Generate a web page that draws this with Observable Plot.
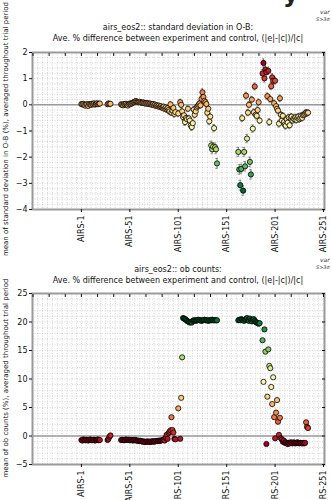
<!DOCTYPE html>
<html><head><meta charset="utf-8">
<script src="https://cdn.jsdelivr.net/npm/d3@7"></script>
<script src="https://cdn.jsdelivr.net/npm/@observablehq/plot@0.6"></script>
<style>
body{margin:0;background:#fff;font-family:"DejaVu Sans",sans-serif;}
#page{position:relative;width:331px;height:500px;overflow:hidden;background:#fff;}
.abs{position:absolute;white-space:nowrap;color:#111;}
.title{left:0;width:356px;text-align:center;font-size:8px;line-height:11px;}
.ylab{font-size:7px;transform:translate(-50%,-50%) rotate(-90deg);}
.leg{font-style:italic;color:#333;}
svg{overflow:visible;}
</style></head><body><div id="page"></div>
<script>
// ---- tick labels ----
const xTickIdx = [0, 50, 100, 150, 200, 250];
const xTickLabels = ["AIRS-1", "AIRS-51", "AIRS-101", "AIRS-151", "AIRS-201", "AIRS-251"];
const yTicksStd = [-4, -3, -2, -1, 0, 1, 2];
const yTicksOb = [-5, 0, 5, 10, 15, 20, 25];

// ---- channel index runs (channels with data) ----
const channelRuns = [[0, 19], [27, 30], [41, 97], [100, 100], [102, 140], [162, 184], [187, 234]];

// ---- standard deviation in O-B, % difference (one value per channel, in run order) ----
const stdDiff = [
  // 0-19
  0.03,0.02,0.04,0.0,-0.03,0.02,0.01,-0.04,0.03,0.01,0.0,0.04,0.02,0.05,0.01,0.03,0.06,0.02,0.04,0.05,
  // 27-30
  0.02,0.05,0.03,0.04,
  // 41-97
  0.02,0.0,-0.02,0.03,0.01,0.04,0.0,-0.03,0.02,0.05,0.03,0.06,0.08,0.1,0.12,0.14,0.13,0.11,0.1,
  0.12,0.1,0.08,0.07,0.09,0.06,0.05,0.07,0.04,0.06,0.03,0.05,0.02,0.0,0.03,-0.02,0.01,-0.04,-0.02,-0.06,-0.03,
  -0.08,-0.05,-0.1,-0.12,-0.07,-0.15,-0.1,-0.18,-0.13,-0.2,-0.25,0.02,-0.3,-0.22,-0.12,-0.35,-0.28,
  // 100
  -0.33,
  // 102-140
  0.1,0.0,-0.25,-0.47,-0.4,-0.66,-0.5,-0.55,-0.15,-0.52,-0.6,-0.79,-0.85,-0.7,-0.18,-0.38,-0.25,-0.1,-0.05,0.0,
  0.05,-0.02,0.23,0.48,0.3,0.15,0.1,0.03,-0.3,-0.15,-0.63,-0.45,-1.55,-1.7,-1.6,-0.89,-1.62,-1.7,-2.24,
  // 162-184
  -1.8,-2.47,-3.07,-2.45,-0.51,-3.28,-1.8,-2.35,0.35,-1.29,-0.3,0.0,-2.18,-2.66,0.2,-0.91,-0.28,0.7,-0.38,-0.42,-0.2,0.1,-0.6,
  // 187-234
  1.2,1.6,1.01,1.35,1.25,0.33,1.3,-0.66,0.22,0.71,1.05,0.92,0.06,0.92,-0.05,-0.15,-0.22,-0.72,0.25,-0.38,
  -0.6,-0.42,-0.66,-0.75,-0.8,-0.55,-0.68,-0.48,-0.78,-0.5,-0.45,-0.6,-0.52,-0.55,-0.48,-0.58,-0.5,-0.45,-0.55,-0.5,
  -0.42,-0.5,-0.4,-0.38,-0.34,-0.3,-0.32,-0.3
];
const stdErr = [
  0.08,0.07,0.08,0.09,0.08,0.07,0.08,0.09,0.08,0.07,0.08,0.08,0.07,0.09,0.08,0.08,0.07,0.08,0.09,0.08,
  0.08,0.09,0.08,0.08,
  0.08,0.08,0.07,0.08,0.09,0.08,0.08,0.07,0.08,0.08,0.09,0.08,0.08,0.07,0.08,0.08,0.09,0.08,0.08,
  0.08,0.07,0.08,0.08,0.09,0.08,0.08,0.07,0.08,0.08,0.09,0.08,0.08,0.07,0.08,0.08,0.09,0.08,0.08,0.08,0.09,
  0.09,0.08,0.09,0.1,0.09,0.1,0.09,0.1,0.1,0.1,0.11,0.1,0.11,0.1,0.1,0.12,0.11,
  0.12,
  0.11,0.11,0.12,0.12,0.12,0.13,0.12,0.12,0.11,0.12,0.13,0.13,0.13,0.12,0.11,0.12,0.12,0.11,0.11,0.11,
  0.11,0.11,0.12,0.13,0.12,0.12,0.11,0.11,0.12,0.12,0.13,0.12,0.16,0.17,0.16,0.14,0.16,0.17,0.19,
  0.17,0.18,0.19,0.18,0.13,0.19,0.17,0.18,0.13,0.16,0.12,0.12,0.18,0.18,0.12,0.14,0.12,0.13,0.12,0.12,0.12,0.12,0.12,
  0.14,0.15,0.14,0.14,0.14,0.12,0.14,0.13,0.12,0.13,0.14,0.13,0.12,0.13,0.12,0.12,0.12,0.13,0.12,0.12,
  0.12,0.12,0.12,0.13,0.13,0.12,0.12,0.12,0.13,0.12,0.12,0.12,0.12,0.12,0.12,0.12,0.12,0.12,0.12,0.12,
  0.12,0.12,0.12,0.12,0.12,0.12,0.12,0.12
];

// ---- ob counts, % difference ----
const obDiff = [
  // 0-19
  -0.7,-0.8,-0.6,-0.7,-0.75,-0.65,-0.7,-0.8,-0.7,-0.6,-0.7,-0.75,-0.7,-0.65,-0.8,-0.7,-0.7,-0.6,-0.75,-0.7,
  // 27-30
  -0.7,-0.5,-0.1,0.1,
  // 41-97
  -0.7,-0.65,-0.7,-0.75,-0.7,-0.6,-0.7,-0.7,-0.65,-0.75,-0.7,-0.7,-0.8,-0.7,-0.75,-0.7,-0.8,-0.85,-0.8,-0.9,-0.85,-0.9,
  -1.0,-0.95,-1.0,-1.05,-1.0,-0.95,-1.0,-1.0,-1.05,-0.95,-1.0,-0.9,-1.0,-0.95,-0.9,-0.85,-0.9,-0.8,-0.85,-0.8,-0.75,-0.7,
  -0.6,-0.8,-0.3,0.2,-0.5,0.5,0.75,1.0,3.3,1.05,0.6,-0.5,-0.6,
  // 100
  4.85,
  // 102-140
  -0.5,6.7,13.8,
  20.7,20.6,20.5,20.4,20.2,20.1,20.0,19.9,20.0,19.9,20.2,20.3,20.3,20.2,20.3,20.3,20.4,20.3,
  20.3,20.2,20.3,20.3,20.4,20.3,20.3,20.3,20.2,20.3,20.3,20.3,20.4,20.3,20.3,20.3,20.3,20.3,
  // 162-184
  20.3,20.4,20.3,20.5,20.4,20.3,20.2,20.4,20.5,20.7,20.3,20.2,20.6,20.3,20.1,20.4,20.5,20.2,20.0,19.9,19.8,19.7,19.8,
  // 187-234
  16.8,9.5,18.7,14.8,-1.4,6.9,15.2,12.3,11.9,8.6,5.6,10.3,3.3,-0.4,4.1,6.3,2.5,0.2,3.2,-0.4,
  -0.6,-1.0,-0.8,-1.2,-1.1,-1.3,-1.4,-1.2,-1.3,-1.1,-1.2,-1.3,-1.1,-1.2,-1.3,-1.2,-1.1,-1.2,-1.3,-1.2,-1.25,-1.3,-1.2,-1.3,
  -1.2,2.4,1.6,1.4
];

// ---- build table ----
const channels = channelRuns.flatMap(([a, b]) => d3.range(a, b + 1));
const stdData = channels.map((c, k) => ({i: c, v: stdDiff[k], e: stdErr[k]}));
const obData = channels.map((c, k) => ({i: c, v: obDiff[k]}));

const page = document.getElementById("page");
const xDomain = [-50.5, 251];
const topTicks = d3.range(-50, 251, 50 / 3);
const tickFmt = (i) => xTickLabels[xTickIdx.indexOf(i)];

function makeChart(data, yDomain, yTicks, minorStep, reverse, withErr, mt, mb) {
  const ext = d3.extent(data, d => d.v);
  const marks = [
    Plot.gridX(d3.range(-50, 251, 5), {stroke: "#b8b8b8", strokeOpacity: 1, strokeWidth: 0.6, strokeDasharray: "1,1.5"}),
    Plot.gridY(d3.range(yDomain[0], yDomain[1] + 1e-9, minorStep), {stroke: "#b8b8b8", strokeOpacity: 1, strokeWidth: 0.6, strokeDasharray: "1,1.5"}),
    Plot.ruleY([0], {stroke: "#9a9a9a", strokeWidth: 1.5})
  ];
  if (withErr) {
    marks.push(
      Plot.ruleX(data, {x: "i", y1: d => d.v - d.e, y2: d => d.v + d.e, stroke: "#6a6a6a", strokeWidth: 0.8}),
      Plot.ruleY(data, {y: d => d.v + d.e, x1: d => d.i - 1.2, x2: d => d.i + 1.2, stroke: "#6a6a6a", strokeWidth: 0.8}),
      Plot.ruleY(data, {y: d => d.v - d.e, x1: d => d.i - 1.2, x2: d => d.i + 1.2, stroke: "#6a6a6a", strokeWidth: 0.8})
    );
  }
  marks.push(
    Plot.dot(data, {x: "i", y: "v", fill: "v", stroke: "#000", strokeWidth: 0.8, r: 2.6}),
    Plot.frame({stroke: "#9a9a9a", strokeWidth: 2}),
    Plot.axisY({anchor: "left", ticks: yTicks, tickSize: 3, tickPadding: 2, fontSize: 8, label: null, tickFormat: d => d < 0 ? "\u2212" + Math.abs(d) : String(d)}),
    Plot.axisY({anchor: "right", ticks: yTicks, tickSize: 3, insetRight: 3, tickFormat: () => "", label: null}),
    Plot.axisX({anchor: "bottom", ticks: xTickIdx, tickSize: 3, tickPadding: 3, tickRotate: -90, fontSize: 8, tickFormat: tickFmt, label: null}),
    Plot.axisX({anchor: "top", ticks: topTicks, tickSize: 3, insetTop: 3, tickFormat: () => "", label: null})
  );
  return Plot.plot({
    width: 331, height: 250,
    marginLeft: 32, marginRight: 7, marginTop: mt, marginBottom: mb,
    style: {fontFamily: "DejaVu Sans", color: "#111", background: "transparent", overflow: "visible"},
    x: {domain: xDomain},
    y: {domain: yDomain},
    color: {type: "linear", scheme: "RdYlGn", reverse, domain: ext},
    marks
  });
}

const c1 = makeChart(stdData, [-4, 2], yTicksStd, 0.2, true, true, 52, 41);
c1.style.position = "absolute"; c1.style.left = "0px"; c1.style.top = "0px";
page.appendChild(c1);
const c2 = makeChart(obData, [-5, 25], yTicksOb, 1, false, false, 43, 36);
c2.style.position = "absolute"; c2.style.left = "0px"; c2.style.top = "250px";
page.appendChild(c2);

function addText(html, cls, css) {
  const d = document.createElement("div");
  d.className = "abs " + cls;
  d.innerHTML = html;
  Object.assign(d.style, css);
  page.appendChild(d);
}
const sub = "Ave. % difference between experiment and control, (|e|-|c|)/|c|";
addText("airs_eos2:: standard deviation in O-B:<br>" + sub, "title", {top: "22px"});
addText("airs_eos2:: ob counts:<br>" + sub, "title", {top: "264px"});
addText("mean of standard deviation in O-B (%), averaged throughout trial period", "ylab", {left: "5.5px", top: "129px"});
addText("mean of ob counts (%), averaged throughout trial period", "ylab", {left: "5.5px", top: "378px"});
addText("var", "leg", {left: "320px", top: "8px", fontSize: "6px"});
addText("S&gt;3\u03c3", "leg", {left: "316px", top: "16px", fontSize: "5px"});
addText("var", "leg", {left: "320px", top: "256px", fontSize: "6px"});
addText("S&gt;3\u03c3", "leg", {left: "316px", top: "264px", fontSize: "5px"});
addText("y", "", {left: "283px", top: "-20px", fontSize: "24px", fontWeight: "bold", color: "#222"});
</script></body></html>
